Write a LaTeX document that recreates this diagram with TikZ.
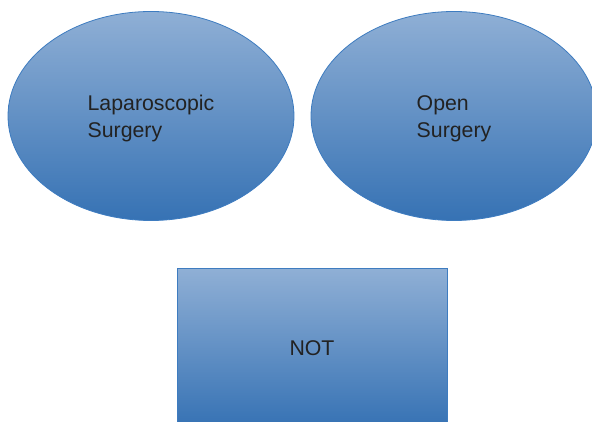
\documentclass[tikz,border=0pt]{standalone}
\usepackage{fontspec}
\setmainfont{Liberation Sans}
\definecolor{bubtop}{HTML}{8FAFD5}
\definecolor{bubbot}{HTML}{3672B4}
\definecolor{bubedge}{HTML}{3E7CC0}
\definecolor{bubtext}{HTML}{222222}
\usetikzlibrary{shapes.geometric,positioning}
\newcommand{\bubstrut}{\rule{0pt}{21pt}}
\tikzset{
  surgerybub/.style={
    ellipse, draw=bubedge, top color=bubtop, bottom color=bubbot,
    minimum width=286pt, minimum height=209pt, line width=0.8pt,
    align=left, text=bubtext, font=\fontsize{21.3}{27}\selectfont
  },
  notbox/.style={
    rectangle, draw=bubedge, top color=bubtop, bottom color=bubbot,
    minimum width=270pt, minimum height=158pt, line width=1pt,
    align=center, text=bubtext, font=\fontsize{21.3}{27}\selectfont
  }
}
\begin{document}
\begin{tikzpicture}[x=1pt, y=1pt]
  \useasboundingbox (0,0) rectangle (592,422);
  \node[surgerybub] (lap)  at (151,306) {\bubstrut Laparoscopic\\Surgery};
  \node[surgerybub] (open) at (454,306) {\bubstrut Open\\Surgery};
  \node[notbox]     (not)  at (312,74)  {NOT};
\end{tikzpicture}
\end{document}
